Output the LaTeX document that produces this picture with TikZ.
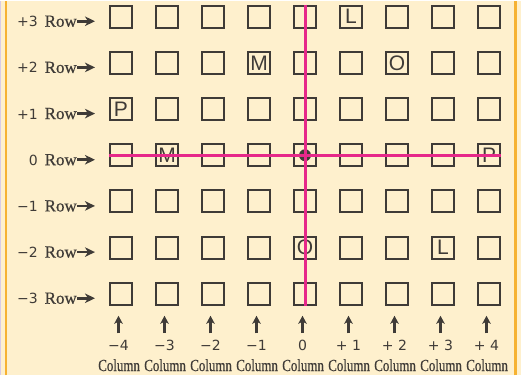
\documentclass[tikz,border=0pt]{standalone}
\usepackage{fontspec}
\setmainfont{Liberation Serif}[FakeBold=0.6]
\newfontfamily\numfont{DejaVu Sans}
\newfontfamily\letterfont{Liberation Sans}
\usetikzlibrary{arrows.meta,positioning}
\definecolor{paper}{HTML}{FEF0CD}
\definecolor{ink}{HTML}{3F3B37}
\definecolor{rim}{HTML}{F6B232}
\definecolor{magenta}{HTML}{E6288A}
\definecolor{lilac}{HTML}{D9CBE6}

\begin{document}
\begin{tikzpicture}[x=46pt, y=46.17pt,
  cell/.style={draw=ink, line width=2pt, minimum size=22pt, inner sep=0pt},
  letter/.style={text=ink, inner sep=0pt, font=\letterfont\fontsize{21}{21}\selectfont},
  rowlbl/.style={anchor=east, inner sep=0pt, text=ink, font=\fontsize{17}{17}\selectfont},
  numlbl/.style={inner sep=0pt, text=ink, font=\numfont\fontsize{14}{14}\selectfont},
  collbl/.style={inner sep=0pt, text=ink, xscale=0.76, font=\fontsize{17}{17}\selectfont},
  rowarrow/.style={draw=ink, line width=2.6pt, -{Stealth[length=10pt,width=9.5pt,inset=3pt]}},
  colarrow/.style={draw=ink, line width=2.4pt, -{Stealth[length=8pt,width=8.5pt,inset=2pt]}},
  crossline/.style={draw=magenta, line width=3pt}]

% paper and margins
\fill[paper] (-6.6304,-4.7650) rectangle (4.6957,3.3355);
\fill[lilac] (-6.6304,-4.7650) rectangle (-6.5978,3.3355);
\draw[rim, line width=2.5pt] (-6.5,-4.7650) -- (-6.5,3.3355);
\draw[rim, line width=2.5pt] (4.576,-4.7650) -- (4.576,3.3355);
\useasboundingbox (-6.6304,-4.7650) rectangle (4.6957,3.3355);

% grid of seats
\foreach \i in {-4,...,4}
  \foreach \j in {-3,...,3}
    \node[cell] (c\i r\j) at (\i,\j) {};

% letters
\node[letter] (l1) at (c1r3)  {L};
\node[letter] (m1) at (c-1r2) {M};
\node[letter] (o1) at (c2r2)  {O};
\node[letter] (p1) at (c-4r1) {P};
\node[letter] (m2) at (c-3r0) {M};
\node[letter] (p2) at (c4r0)  {P};
\node[letter] (o2) at (c0r-2) {O};
\node[letter] (l2) at (c3r-2) {L};

% origin
\fill[ink] (c0r0) circle (6pt);

% row labels
\foreach \j/\t in {3/+3, 2/+2, 1/+1, 0/0, -1/−1, -2/−2, -3/−3} {
  \node[rowlbl, left=32pt of c-4r\j, yshift=-4.5pt] (row\j) {{\numfont\fontsize{14}{14}\selectfont\t}\hspace{7pt}Row};
  \draw[rowarrow, shorten >=14pt] (row\j.east) -- (row\j.east -| c-4r\j.west);
}

% column labels
\foreach \i/\t in {-4/−4, -3/−3, -2/−2, -1/−1, 0/0, 1/+ 1, 2/+ 2, 3/+ 3, 4/+ 4} {
  \node[numlbl, xshift=-2.5pt] (n\i) at (\i,-4.115) {\t};
  \node[collbl, xshift=-2.5pt] (col\i) at (\i,-4.548) {Column};
  \draw[colarrow, shorten <=6.5pt, shorten >=10pt] (n\i.north) -- (n\i.north |- c\i r-3.south);
}

% axes through the origin
\draw[crossline] (c-4r0.west) -- (c4r0.east);
\draw[crossline] (c0r3.north) -- (c0r-3.south);

\end{tikzpicture}
\end{document}
